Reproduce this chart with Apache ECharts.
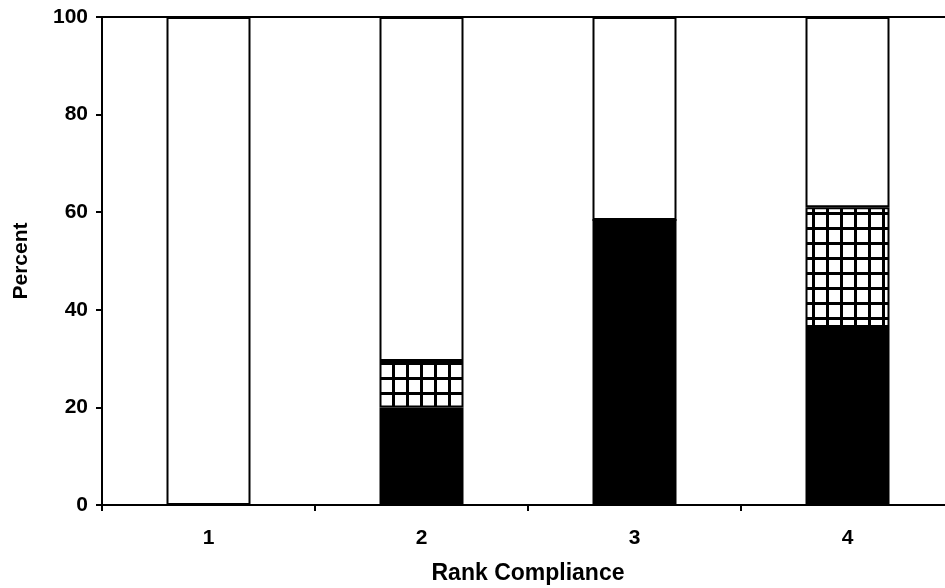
<!DOCTYPE html>
<html>
<head>
<meta charset="utf-8">
<script src="https://cdn.jsdelivr.net/npm/echarts@6/dist/echarts.min.js"></script>
<style>
html,body{margin:0;padding:0;background:#fff;}
#chart{width:945px;height:588px;}
</style>
</head>
<body>
<div id="chart"></div>
<script>
// Data
var categories = ['1', '2', '3', '4'];
var solidValues = [0, 20, 58.4, 36.5];     // black segment
var hatchedValues = [0, 9.5, 0, 24.5];     // cross-hatched segment
var whiteValues = [100, 70.5, 41.6, 39];   // remaining white segment
var yTicks = [0, 20, 40, 60, 80, 100];

// Grid hatch pattern
var tile = document.createElement('canvas');
tile.width = 14; tile.height = 15;
var ctx = tile.getContext('2d');
ctx.fillStyle = '#fff';
ctx.fillRect(0, 0, 14, 15);
ctx.fillStyle = '#000';
ctx.fillRect(0, 0, 3, 15);
ctx.fillRect(0, 2, 14, 3);

var chart = echarts.init(document.getElementById('chart'), null, {renderer: 'canvas'});
var font = '"Liberation Sans", Arial, sans-serif';
var border = {borderColor: '#000', borderWidth: 2};

chart.setOption({
  backgroundColor: '#fff',
  animation: false,
  grid: {left: 102, top: 17, width: 852, bottom: 83, show: true, borderColor: '#000', borderWidth: 2,
    backgroundColor: 'transparent', containLabel: false, outerBoundsMode: 'none'},
  xAxis: {
    type: 'category',
    data: categories,
    name: 'Rank Compliance',
    nameLocation: 'middle',
    nameGap: 57,
    nameTextStyle: {fontFamily: font, fontWeight: 'bold', fontSize: 23, color: '#000'},
    axisLine: {lineStyle: {color: '#000', width: 2}},
    axisTick: {show: true, length: 6, lineStyle: {color: '#000', width: 2}},
    axisLabel: {margin: 23, fontFamily: font, fontWeight: 'bold', fontSize: 21, color: '#000'},
    splitLine: {show: false}
  },
  yAxis: {
    type: 'value',
    min: 0, max: 100, interval: 20,
    name: 'Percent',
    nameLocation: 'middle',
    nameGap: 70,
    nameTextStyle: {fontFamily: font, fontWeight: 'bold', fontSize: 21, color: '#000'},
    axisLine: {show: true, lineStyle: {color: '#000', width: 2}},
    axisTick: {show: true, length: 6, lineStyle: {color: '#000', width: 2}},
    axisLabel: {margin: 14, fontFamily: font, fontWeight: 'bold', fontSize: 21, color: '#000',
      formatter: function (v) { return yTicks.indexOf(v) >= 0 ? String(v) : ''; }},
    splitLine: {show: false}
  },
  series: [
    {type: 'bar', stack: 'a', barWidth: 84, data: solidValues,
     itemStyle: Object.assign({color: '#000'}, border)},
    {type: 'bar', stack: 'a', barWidth: 84, data: hatchedValues,
     itemStyle: Object.assign({color: {image: tile, repeat: 'repeat'}}, border)},
    {type: 'bar', stack: 'a', barWidth: 84, data: whiteValues,
     itemStyle: Object.assign({color: '#fff'}, border)}
  ]
});
</script>
</body>
</html>
